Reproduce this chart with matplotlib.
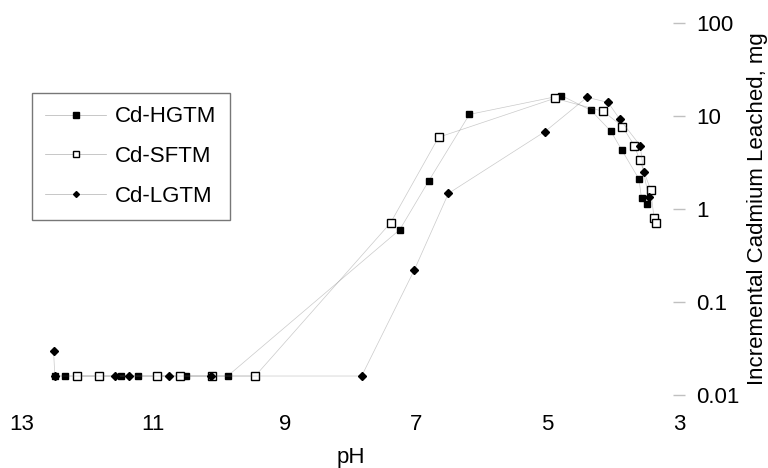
import matplotlib
matplotlib.use("Agg")
import matplotlib.pyplot as plt

plt.rcParams['font.family'] = ['Liberation Sans', 'DejaVu Sans']

# pH and incremental Cd leached (mg) for each waste form
hgtm_ph = [12.5, 12.35, 11.5, 11.23, 10.5, 9.87, 7.25, 6.81, 6.19, 4.79, 4.34, 4.04, 3.87, 3.61, 3.57, 3.48]
hgtm_cd = [0.016, 0.016, 0.016, 0.016, 0.016, 0.016, 0.60, 2.0, 10.4, 16.6, 11.5, 6.9, 4.3, 2.1, 1.3, 1.12]

sftm_ph = [12.17, 11.83, 10.95, 10.6, 10.11, 9.45, 7.39, 6.66, 4.89, 4.15, 3.86, 3.68, 3.60, 3.43, 3.38, 3.35]
sftm_cd = [0.016, 0.016, 0.016, 0.016, 0.016, 0.016, 0.71, 5.9, 15.5, 11.2, 7.7, 4.8, 3.4, 1.6, 0.80, 0.71]

lgtm_ph = [12.52, 12.5, 11.58, 11.37, 10.76, 10.12, 7.83, 7.03, 6.51, 5.04, 4.40, 4.08, 3.90, 3.59, 3.54, 3.46]
lgtm_cd = [0.03, 0.016, 0.016, 0.016, 0.016, 0.016, 0.016, 0.22, 1.47, 6.8, 15.9, 14.0, 9.2, 4.8, 2.5, 1.33]

x_ticks = [13, 11, 9, 7, 5, 3]
y_ticks = [0.01, 0.1, 1, 10, 100]
y_tick_labels = ['0.01', '0.1', '1', '10', '100']

fs = 16

fig = plt.figure(figsize=(7.68, 4.68), dpi=100)
ax = fig.add_axes([22 / 768, 1 - 395 / 468, (679 - 22) / 768, (395 - 23) / 468])

# very faint connecting lines (rgba so the markers stay solid)
line_kw = dict(color=(0.4, 0.4, 0.4, 0.35), linewidth=0.5)
ax.plot(hgtm_ph, hgtm_cd, marker='s', markersize=5, markerfacecolor='black',
        markeredgecolor='black', label='Cd-HGTM', **line_kw)
ax.plot(sftm_ph, sftm_cd, marker='s', markersize=6.3, markerfacecolor='white',
        markeredgecolor='black', markeredgewidth=1.0, label='Cd-SFTM', **line_kw)
ax.plot(lgtm_ph, lgtm_cd, marker='D', markersize=4.0, markerfacecolor='black',
        markeredgecolor='black', label='Cd-LGTM', **line_kw)

ax.set_yscale('log')
ax.set_ylim(0.01, 100)
ax.set_xlim(13, 3)
ax.set_xticks(x_ticks)
ax.set_xticklabels([str(t) for t in x_ticks])
ax.set_yticks(y_ticks)
ax.set_yticklabels(y_tick_labels)
ax.minorticks_off()

for s in ax.spines.values():
    s.set_visible(False)

# y axis sits on the right at pH 3
ax.yaxis.tick_right()
ax.yaxis.set_label_position('right')
ax.tick_params(axis='y', direction='inout', length=8, width=1, color='#c0c0c0',
               pad=8.5, labelsize=fs)
ax.tick_params(axis='x', length=0, pad=14, labelsize=fs)

ax.set_xlabel('pH', fontsize=fs, labelpad=8)
ax.set_ylabel('Incremental Cadmium Leached, mg', fontsize=fs, rotation=90, labelpad=5)

leg = ax.legend(loc='upper left', bbox_to_anchor=(32 / 768, 1 - 93 / 468),
                bbox_transform=fig.transFigure, borderaxespad=0, fancybox=False,
                fontsize=fs, handlelength=2.75, handletextpad=0.4, labelspacing=0.85,
                borderpad=0.6, markerscale=0.75)
leg.get_frame().set_edgecolor('#555555')
leg.get_frame().set_linewidth(1.0)
for h in leg.get_lines():
    h.set_color('#b0b0b0')

fig.savefig('out.png', dpi=100)
